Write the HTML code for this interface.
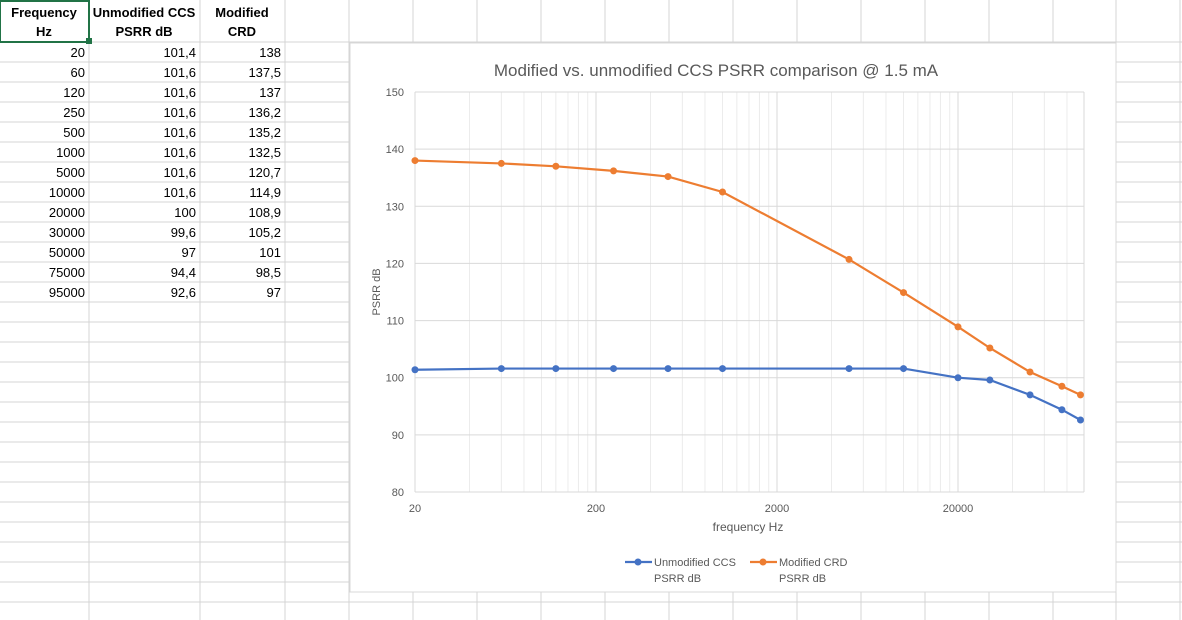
<!DOCTYPE html>
<html><head><meta charset="utf-8"><style>
body{margin:0;width:1182px;height:620px;overflow:hidden;background:#fff;font-family:"Liberation Sans",sans-serif;}
svg{position:absolute;left:0;top:0}
</style></head><body>
<svg width="1182" height="620">
<g id="grid"></g>
<g id="cells" font-size="13" fill="#000"></g>
<rect x="0" y="1" width="89" height="41" fill="none" stroke="#217346" stroke-width="2"/>
<rect x="86" y="38" width="6" height="6" fill="#217346"/>
<g id="chart">
<rect x="350" y="43" width="766" height="549" fill="#fff" stroke="#d9d9d9"/>
<text x="716" y="76" text-anchor="middle" font-size="17" fill="#595959">Modified vs. unmodified CCS PSRR comparison @ 1.5 mA</text>
<g id="plot"></g>
<text transform="translate(380,292) rotate(-90)" text-anchor="middle" font-size="11" fill="#595959">PSRR dB</text>
<text x="748" y="531" text-anchor="middle" font-size="12" fill="#595959">frequency Hz</text>
<g font-size="11" fill="#595959">
<g>
<line x1="625" y1="562" x2="652" y2="562" stroke="#4472c4" stroke-width="2.2"/><circle cx="638" cy="562" r="3.5" fill="#4472c4"/>
<text x="654" y="566">Unmodified CCS</text><text x="654" y="582">PSRR dB</text></g>
<g>
<line x1="750" y1="562" x2="777" y2="562" stroke="#ed7d31" stroke-width="2.2"/><circle cx="763" cy="562" r="3.5" fill="#ed7d31"/>
<text x="779" y="566">Modified CRD</text><text x="779" y="582">PSRR dB</text></g>
</g>
</g>
</svg>
<script>
const freqs=[20,60,120,250,500,1000,5000,10000,20000,30000,50000,75000,95000];
const unmod=[101.4,101.6,101.6,101.6,101.6,101.6,101.6,101.6,100,99.6,97,94.4,92.6];
const modif=[138,137.5,137,136.2,135.2,132.5,120.7,114.9,108.9,105.2,101,98.5,97];
const unmodLabels=["101,4","101,6","101,6","101,6","101,6","101,6","101,6","101,6","100","99,6","97","94,4","92,6"];
const modLabels=["138","137,5","137","136,2","135,2","132,5","120,7","114,9","108,9","105,2","101","98,5","97"];
const yTicks=[80,90,100,110,120,130,140,150];
const xTicks=[20,200,2000,20000];
const NS="http://www.w3.org/2000/svg";
function mk(p,t,a){const e=document.createElementNS(NS,t);for(const k in a)e.setAttribute(k,a[k]);p.appendChild(e);return e;}
const X0=415,X1=1084,Y0=492,Y1=92,xmin=20,xmax=100000*0.95;
const xs=v=>X0+Math.log10(v/20)*181;
const ys=v=>Y0-(v-80)/70*(Y0-Y1);
// sheet grid
const g=document.getElementById('grid');
const vcols=[89,200,285,349,413,477,541,605,669,733,797,861,925,989,1053,1116,1180];
vcols.forEach(x=>{const l=mk(g,'line',{x1:x,y1:0,x2:x,y2:620,stroke:'#d4d4d4'});

});
for(let y=42;y<620;y+=20){const l=mk(g,'line',{x1:0,y1:y,x2:1182,y2:y,stroke:'#d4d4d4'});

}
const c=document.getElementById('cells');
const hdr=[[44,"Frequency","Hz"],[144,"Unmodified CCS","PSRR dB"],[242,"Modified","CRD"]];
hdr.forEach(h=>{[1,2].forEach(i=>{const t=mk(c,'text',{x:h[0],y:i==1?17:36,'text-anchor':'middle','font-weight':'bold'});t.textContent=h[i];

});});
freqs.forEach((f,i)=>{const y=57+i*20;
[[85,String(f)],[196,unmodLabels[i]],[281,modLabels[i]]].forEach(d=>{const t=mk(c,'text',{x:d[0],y:y,'text-anchor':'end'});t.textContent=d[1];

});});
// plot
const p=document.getElementById('plot');
for(let d=20;d<=20000;d*=10){for(let m=2;m<=9;m++){const v=d*m;if(v>xmax)break;const l=mk(p,'line',{x1:xs(v),y1:Y1,x2:xs(v),y2:Y0,stroke:'#ececec'});

}}
yTicks.forEach(v=>{const l=mk(p,'line',{x1:X0,y1:ys(v),x2:X1,y2:ys(v),stroke:'#d9d9d9'});


const t=mk(p,'text',{x:404,y:ys(v)+4,'text-anchor':'end','font-size':11,fill:'#595959'});t.textContent=v;

});
xTicks.forEach(v=>{const l=mk(p,'line',{x1:xs(v),y1:Y1,x2:xs(v),y2:Y0,stroke:'#d9d9d9'});


const t=mk(p,'text',{x:xs(v),y:512,'text-anchor':'middle','font-size':11,fill:'#595959'});t.textContent=v;

});
const rl=mk(p,'line',{x1:X1,y1:Y1,x2:X1,y2:Y0,stroke:'#d9d9d9'});


[[unmod,'#4472c4','series-unmodified'],[modif,'#ed7d31','series-modified']].forEach(s=>{
const pl=mk(p,'polyline',{points:freqs.map((f,i)=>xs(f)+','+ys(s[0][i])).join(' '),fill:'none',stroke:s[1],'stroke-width':2.2});


freqs.forEach((f,i)=>{const ci=mk(p,'circle',{cx:xs(f),cy:ys(s[0][i]),r:3.5,fill:s[1]});

});});
</script>
</body></html>
